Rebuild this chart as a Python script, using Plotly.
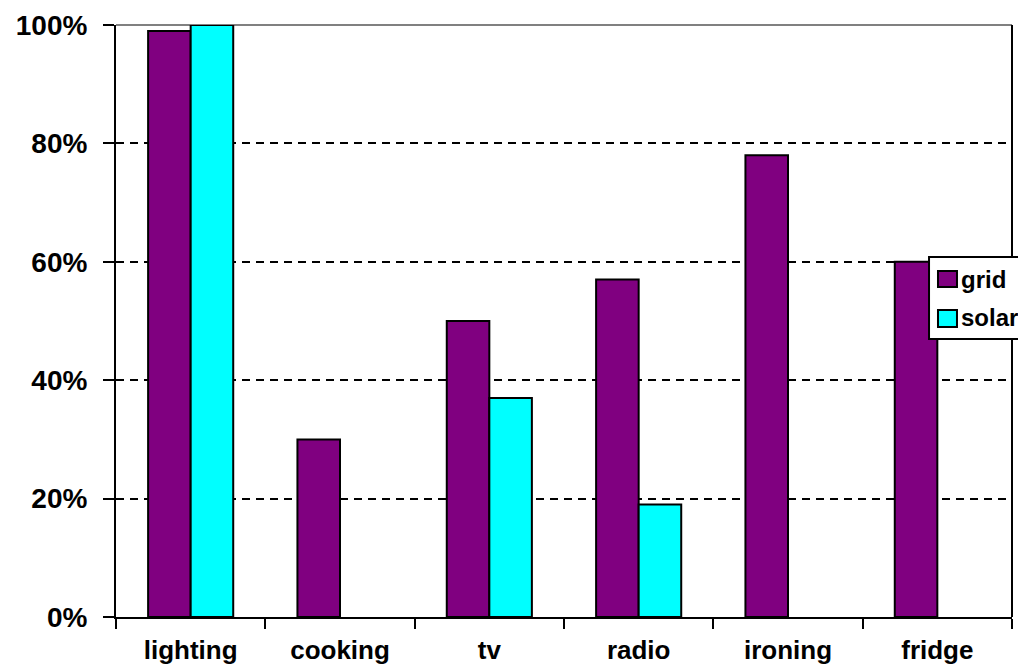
import plotly.graph_objects as go

categories = ["lighting", "cooking", "tv", "radio", "ironing", "fridge"]
grid_values = [99, 30, 50, 57, 78, 60]
solar_values = [100, 0, 37, 19, 0, 0]
y_ticks = [0, 20, 40, 60, 80, 100]
y_tick_labels = ["0%", "20%", "40%", "60%", "80%", "100%"]
series_names = ["grid", "solar"]
series_colors = ["#800080", "#00FFFF"]

FONT = "Arial, Liberation Sans, sans-serif"

fig = go.Figure()
for name, vals, col in zip(series_names, [grid_values, solar_values], series_colors):
    fig.add_trace(go.Bar(
        x=categories, y=[v if v else None for v in vals], name=name, showlegend=False,
        marker=dict(color=col, line=dict(color="black", width=2)),
    ))

fig.update_layout(
    width=1060, height=670,
    margin=dict(l=108, r=56, t=17, b=61, autoexpand=False),
    paper_bgcolor="white", plot_bgcolor="white",
    barmode="group", bargap=0.43, bargroupgap=0,
    font=dict(family=FONT, color="black"),
    showlegend=False,
)
fig.update_xaxes(
    type="category", tickson="boundaries", automargin=False,
    ticks="outside", ticklen=10, tickwidth=2, tickcolor="black",
    showline=True, linecolor="black", linewidth=2,
    showgrid=False,
    tickfont=dict(size=26, family=FONT, color="black", weight="bold"),
    ticklabelstandoff=9,
)
fig.update_yaxes(
    range=[0, 100], tickvals=y_ticks, ticktext=y_tick_labels, automargin=False,
    ticks="outside", ticklen=11, tickwidth=2, tickcolor="black",
    showline=True, linecolor="black", linewidth=2,
    showgrid=True, gridcolor="black", gridwidth=2, griddash="8px,6px",
    zeroline=False,
    tickfont=dict(size=28, family=FONT, color="black", weight="bold"),
    ticklabelstandoff=10,
)
# gray top border of plot area beneath the dashed gridline
fig.add_shape(type="line", xref="paper", yref="paper", x0=0, x1=1, y0=1, y1=1,
              line=dict(color="#808080", width=2), layer="below")
# right border of plot area
fig.add_shape(type="line", xref="paper", yref="paper", x0=1, x1=1, y0=0, y1=1,
              line=dict(color="black", width=2))

# manual legend box (clipped at the right edge, as in the reference)
fig.add_shape(type="rect", xref="paper", yref="paper",
              x0=0.9074, x1=1.040, y0=0.4696, y1=0.6081,
              fillcolor="white", line=dict(color="black", width=2), layer="above")
sw_y = [(0.5574, 0.5845), (0.4899, 0.5186)]
txt_y = [0.5709, 0.5051]
for name, col, (y0, y1), ty in zip(series_names, series_colors, sw_y, txt_y):
    fig.add_shape(type="rect", xref="paper", yref="paper",
                  x0=0.9174, x1=0.9386, y0=y0, y1=y1,
                  fillcolor=col, line=dict(color="black", width=2), layer="above")
    fig.add_annotation(xref="paper", yref="paper", x=0.9405, y=ty,
                       xanchor="left", yanchor="middle", showarrow=False,
                       text=name, font=dict(size=24, family=FONT, color="black", weight="bold"))

fig.write_html("out.html")
